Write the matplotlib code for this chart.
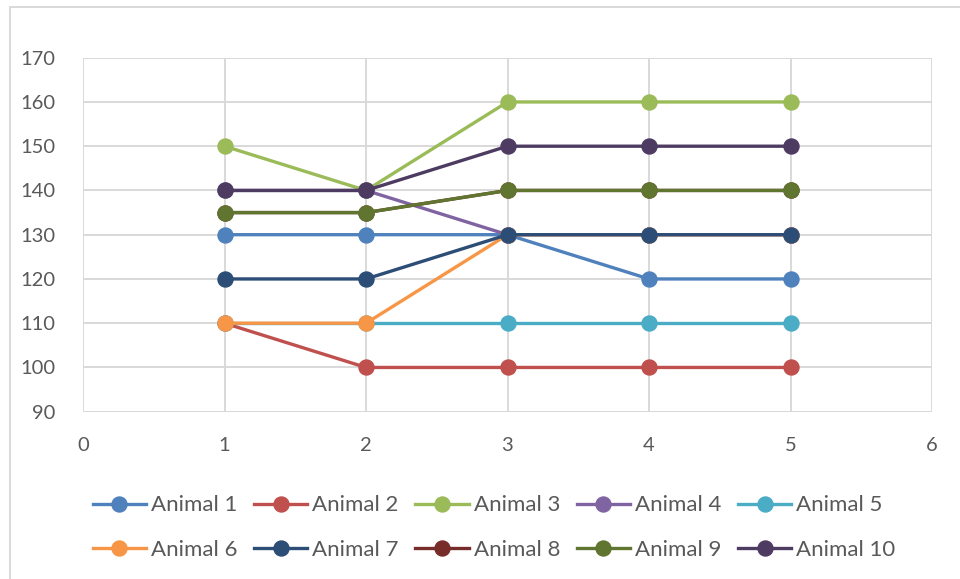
import matplotlib
matplotlib.use("Agg")
import matplotlib.pyplot as plt
from matplotlib.lines import Line2D

plt.rcParams['font.family'] = ['Lato', 'DejaVu Sans']

days = [1, 2, 3, 4, 5]
labels = [f"Animal {i}" for i in range(1, 11)]
animal_1 = [130, 130, 130, 120, 120]
animal_2 = [110, 100, 100, 100, 100]
animal_3 = [150, 140, 160, 160, 160]
animal_4 = [140, 140, 130, 130, 130]
animal_5 = [110, 110, 110, 110, 110]
animal_6 = [110, 110, 130, 130, 130]
animal_7 = [120, 120, 130, 130, 130]
animal_8 = [135, 135, 140, 140, 140]
animal_9 = [135, 135, 140, 140, 140]
animal_10 = [140, 140, 150, 150, 150]
series = [animal_1, animal_2, animal_3, animal_4, animal_5,
          animal_6, animal_7, animal_8, animal_9, animal_10]
colors = ['#4F81BD', '#C0504D', '#9BBB59', '#8064A2', '#4BACC6',
          '#F79646', '#2C4D75', '#772C2A', '#5F7530', '#4D3B62']
x_ticks = [0, 1, 2, 3, 4, 5, 6]
y_ticks = [90, 100, 110, 120, 130, 140, 150, 160, 170]

fig = plt.figure(figsize=(9.6, 5.79), dpi=100)
ax = fig.add_axes([83/960, 1-411.7/579, (932-83)/960, (411.7-57.7)/579])

for vals, c, lab in zip(series, colors, labels):
    ax.plot(days, vals, color=c, lw=2.4, marker='o', markersize=10.8,
            label=lab, solid_capstyle='round', zorder=3)

ax.set_xlim(0, 6)
ax.set_ylim(90, 170)
ax.set_xticks(x_ticks)
ax.set_yticks(y_ticks)
ax.grid(True, color='#D9D9D9', lw=1.4, zorder=0)
for s in ax.spines.values():
    s.set_visible(False)
ax.axhline(90, color='#BFBFBF', lw=1.4, zorder=1)
ax.tick_params(length=0, labelsize=14.5, labelcolor='#595959')
ax.tick_params(axis='x', pad=18)
ax.tick_params(axis='y', pad=20)

handles = [Line2D([0], [0], color=c, lw=2.4, marker='o', markersize=10.8)
           for c in colors]
# legend fills column-wise; reorder so rows read Animal 1-5, then 6-10
order = [0, 5, 1, 6, 2, 7, 3, 8, 4, 9]
fig.legend([handles[i] for i in order], [labels[i] for i in order],
           ncol=5, loc='center', bbox_to_anchor=(494/960, 1-527.5/579),
           frameon=False, fontsize=16, labelcolor='#595959',
           handlelength=2.4, handletextpad=0.22, columnspacing=0.75,
           labelspacing=1.1)

# outer chart border (left and top only visible)
fig.add_artist(Line2D([10/960, 10/960], [0, 1-6.5/579], color='#D9D9D9', lw=1.4,
                      transform=fig.transFigure))
fig.add_artist(Line2D([10/960, 1], [1-6.5/579, 1-6.5/579], color='#D9D9D9', lw=1.4,
                      transform=fig.transFigure))

fig.savefig("out.png", dpi=100, facecolor='white')
